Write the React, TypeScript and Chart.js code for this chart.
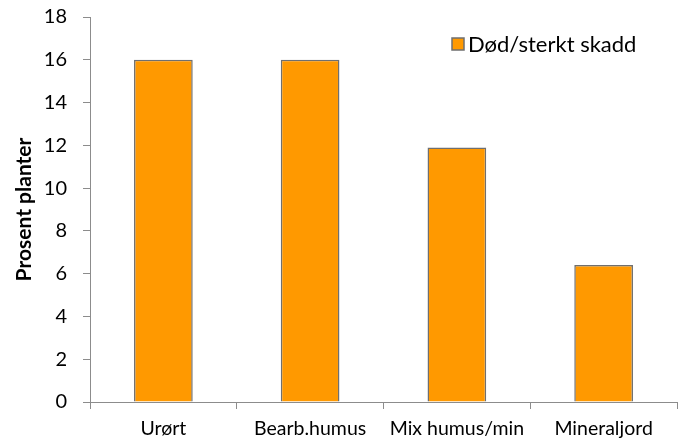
import React, { useEffect, useRef } from "react";
import { Chart, registerables } from "chart.js";

Chart.register(...registerables);

const categories = ["Urørt", "Bearb.humus", "Mix humus/min", "Mineraljord"];
const seriesName = "Død/sterkt skadd";
const values = [16, 16, 11.9, 6.4];
const yTitle = "Prosent planter";

const FONT = "Lato, 'Open Sans', sans-serif";

const legendPlugin = {
  id: "insideLegend",
  afterDraw(chart: any) {
    const ctx = chart.ctx;
    const ds = chart.data.datasets[0];
    const area = chart.chartArea;
    const x = area.right - 225;
    const y = area.top + 27;
    ctx.save();
    ctx.fillStyle = ds.backgroundColor;
    ctx.strokeStyle = "#6f6f6f";
    ctx.lineWidth = 1.5;
    ctx.fillRect(x, y - 6, 12, 12);
    ctx.strokeRect(x, y - 6, 12, 12);
    ctx.fillStyle = "#000";
    ctx.font = "22px " + FONT;
    ctx.textBaseline = "middle";
    ctx.textAlign = "left";
    ctx.fillText(ds.label, x + 16, y + 1);
    ctx.restore();
  },
};

export default function App() {
  const ref = useRef<HTMLCanvasElement>(null);
  useEffect(() => {
    if (!ref.current) return;
    const chart = new Chart(ref.current, {
      type: "bar",
      data: {
        labels: categories,
        datasets: [
          {
            label: seriesName,
            data: values,
            backgroundColor: "#ff9900",
            borderColor: "#6f6f6f",
            borderWidth: 1.5,
            categoryPercentage: 1,
            barPercentage: 0.4,
          },
        ],
      },
      options: {
        animation: false,
        responsive: false,
        maintainAspectRatio: false,
        layout: { padding: { top: 17, right: 2, left: 0, bottom: 0 } },
        plugins: { legend: { display: false }, tooltip: { enabled: false } },
        scales: {
          x: {
            offset: true,
            grid: {
              offset: true,
              drawOnChartArea: false,
              drawTicks: true,
              tickLength: 7,
              color: "#8c8c8c",
            },
            border: { color: "#8c8c8c", width: 1 },
            ticks: { color: "#000", font: { family: FONT, size: 19.5 }, padding: 8 },
            afterFit: (s: any) => {
              s.height = 38;
              s.paddingLeft = 0;
              s.paddingRight = 0;
            },
          },
          y: {
            min: 0,
            max: 18,
            ticks: {
              stepSize: 2,
              color: "#000",
              font: { family: FONT, size: 20 },
              padding: 16,
            },
            grid: {
              drawOnChartArea: false,
              drawTicks: true,
              tickLength: 7,
              color: "#8c8c8c",
            },
            border: { color: "#8c8c8c", width: 1 },
            title: {
              display: true,
              text: yTitle,
              color: "#000",
              font: { family: FONT, size: 21, weight: "bold" },
              padding: { top: 12, bottom: 0 },
            },
            afterFit: (s: any) => {
              s.width = 90;
              s.paddingTop = 0;
              s.paddingBottom = 0;
            },
          },
        },
      },
      plugins: [legendPlugin],
    });
    return () => chart.destroy();
  }, []);
  return (
    <div style={{ position: "fixed", left: 0, top: 0, width: 679, height: 440, background: "#fff" }}>
      <canvas ref={ref} width={679} height={440} />
    </div>
  );
}
